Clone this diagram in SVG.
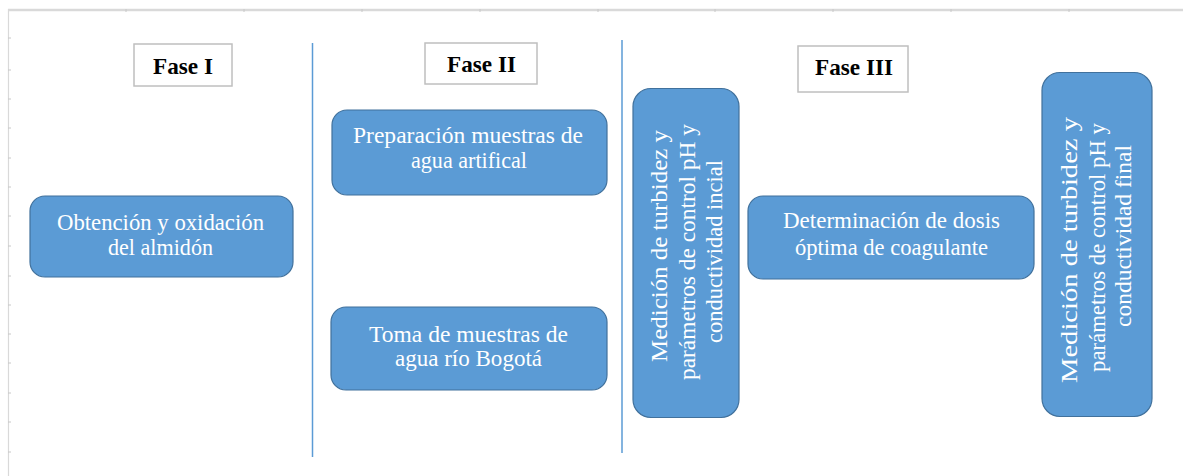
<svg xmlns="http://www.w3.org/2000/svg" width="1183" height="476" viewBox="0 0 1183 476">
<style>
.node{fill:#5b9bd5;stroke:#41719c;stroke-width:1.2}
.t{font-family:"Liberation Serif","Times New Roman",serif;font-size:23px;fill:#ffffff;text-anchor:middle}
.phase{fill:#ffffff;stroke:#bfbfbf;stroke-width:1.5}
.pt{font-family:"Liberation Serif","Times New Roman",serif;font-size:23px;font-weight:bold;fill:#000000;text-anchor:middle}
.div{stroke:#5b9bd5;stroke-width:1.5}
.frame{stroke:#d9d9d9;fill:none}
.tick{stroke:#c8c8c8;stroke-width:1}
</style>
<rect width="1183" height="476" fill="#ffffff"/>
<g id="frame">
<line class="frame" x1="8" y1="10" x2="1183" y2="10" stroke-width="2.5"/>
<line class="frame" x1="8.5" y1="9" x2="8.5" y2="476" stroke-width="1.2"/>
<path class="tick" d="M8 38h3M8 70h3M8 99h3M8 128h3M8 158h3M8 187h3M8 216h3M8 246h3M8 276h3M8 305h3M8 334h3M8 363h3M8 393h3M8 422h3M8 452h3"/>
<path class="tick" d="M126 9v3M244 9v3M362 9v3M480 9v3M598 9v3M715 9v3M833 9v3M951 9v3M1069 9v3"/>
</g>
<g id="dividers">
<line class="div" x1="312.5" y1="43" x2="312.5" y2="457"/>
<line class="div" x1="622" y1="40" x2="622" y2="453"/>
</g>
<g id="fase1">
<rect class="phase" x="134" y="44" width="98" height="42"/>
<text class="pt" x="183" y="74" textLength="60" lengthAdjust="spacingAndGlyphs">Fase I</text>
</g>
<g id="fase2">
<rect class="phase" x="425" y="43" width="112" height="41"/>
<text class="pt" x="481.5" y="72" textLength="69" lengthAdjust="spacingAndGlyphs">Fase II</text>
</g>
<g id="fase3">
<rect class="phase" x="798" y="46" width="110" height="46"/>
<text class="pt" x="854" y="75" textLength="78" lengthAdjust="spacingAndGlyphs">Fase III</text>
</g>
<g id="obtencion">
<rect class="node" x="30" y="196" width="263" height="81" rx="15"/>
<text class="t" x="160.5" y="230" textLength="207" lengthAdjust="spacingAndGlyphs">Obtención  y oxidación</text>
<text class="t" x="160.5" y="255" textLength="105" lengthAdjust="spacingAndGlyphs">del almidón</text>
</g>
<g id="preparacion">
<rect class="node" x="332" y="110" width="275" height="85" rx="15"/>
<text class="t" x="468" y="143" textLength="230" lengthAdjust="spacingAndGlyphs">Preparación  muestras  de</text>
<text class="t" x="469" y="168" textLength="116" lengthAdjust="spacingAndGlyphs">agua  artifical</text>
</g>
<g id="toma">
<rect class="node" x="331" y="307" width="276" height="83" rx="15"/>
<text class="t" x="468.5" y="342" textLength="199" lengthAdjust="spacingAndGlyphs">Toma  de muestras  de</text>
<text class="t" x="468.5" y="366" textLength="147" lengthAdjust="spacingAndGlyphs">agua  río  Bogotá</text>
</g>
<g id="medicion-inicial">
<rect class="node" x="633" y="88.5" width="106" height="329" rx="18"/>
<text class="t" transform="translate(667,246) rotate(-90)" textLength="232" lengthAdjust="spacingAndGlyphs">Medición  de turbidez  y</text>
<text class="t" transform="translate(695,252) rotate(-90)" textLength="256" lengthAdjust="spacingAndGlyphs">parámetros  de control pH y</text>
<text class="t" transform="translate(722,251.5) rotate(-90)" textLength="183" lengthAdjust="spacingAndGlyphs">conductividad  incial</text>
</g>
<g id="determinacion">
<rect class="node" x="748" y="196" width="286" height="83" rx="15"/>
<text class="t" x="891.5" y="228" textLength="217" lengthAdjust="spacingAndGlyphs">Determinación  de dosis</text>
<text class="t" x="891.5" y="255" textLength="193" lengthAdjust="spacingAndGlyphs">óptima  de  coagulante</text>
</g>
<g id="medicion-final">
<rect class="node" x="1042" y="72.5" width="110" height="344" rx="18"/>
<text class="t" transform="translate(1077,250) rotate(-90)" textLength="266" lengthAdjust="spacingAndGlyphs">Medición  de  turbidez  y</text>
<text class="t" transform="translate(1105,247.5) rotate(-90)" textLength="249" lengthAdjust="spacingAndGlyphs">parámetros de control pH y</text>
<text class="t" transform="translate(1131,236) rotate(-90)" textLength="182" lengthAdjust="spacingAndGlyphs">conductividad  final</text>
</g>
</svg>
